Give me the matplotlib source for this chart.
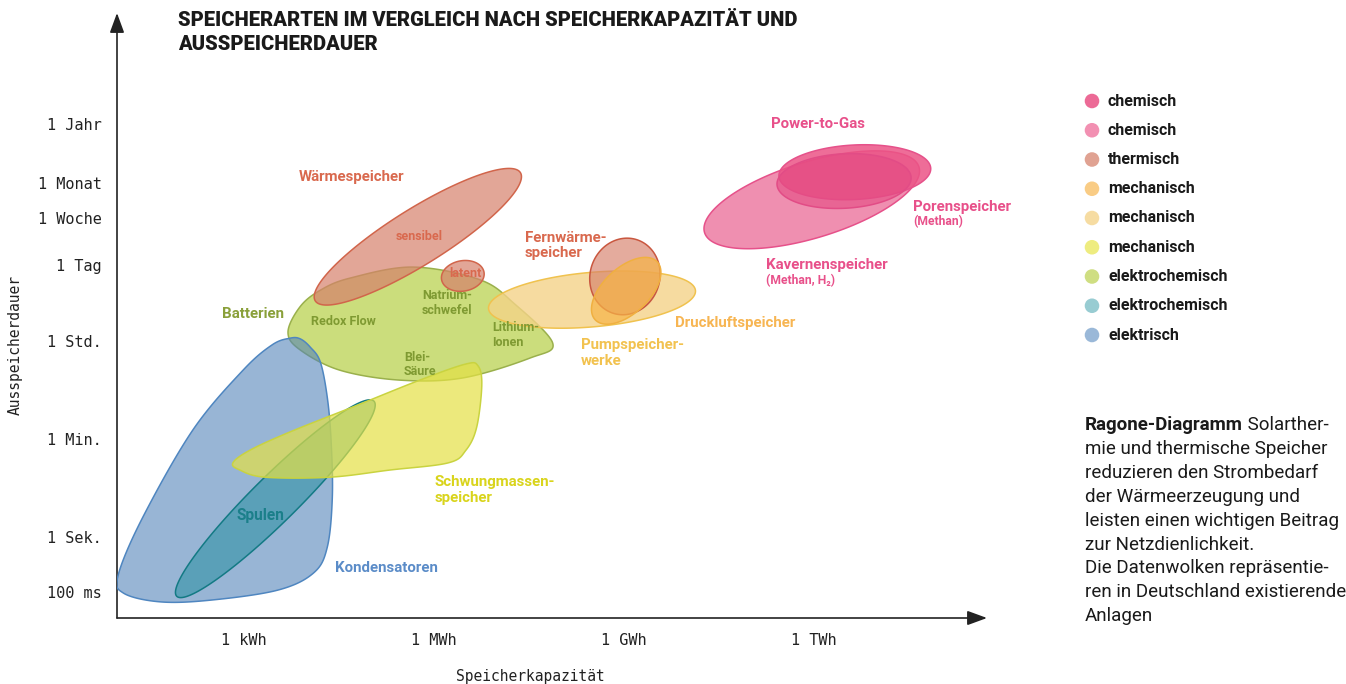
import numpy as np
import matplotlib
matplotlib.use("Agg")
import matplotlib.pyplot as plt
import matplotlib.colors as mcolors

plt.rcParams["font.family"] = ["Roboto", "DejaVu Sans"]
MONO = "DejaVu Sans Mono"

# axes: x = log10(capacity in Wh), y = log10(discharge duration in s)
x_ticks = [3, 6, 9, 12]
x_labels = ["1 kWh", "1 MWh", "1 GWh", "1 TWh"]
y_seconds = [365.25 * 86400, 30.44 * 86400, 7 * 86400, 86400, 3600, 60, 1, 0.1]
y_labels = ["1 Jahr", "1 Monat", "1 Woche", "1 Tag", "1 Std.", "1 Min.", "1 Sek.", "100 ms"]

# elliptic data clouds (centre, half axes in decades, tilt in degrees)
ell_names = ["Kavernenspeicher", "Power-to-Gas", "Porenspeicher", "Wärme sensibel",
             "Wärme latent", "Pumpspeicherwerke", "Druckluftspeicher",
             "Fernwärmespeicher", "Spulen"]
ell_x = [11.97, 12.65, 12.48, 5.75, 6.46, 8.50, 9.04, 9.02, 3.50]
ell_y = [6.12, 6.62, 6.46, 5.45, 4.74, 4.31, 4.47, 4.73, 0.70]
ell_rx = [1.77, 1.20, 1.06, 1.91, 0.34, 1.64, 0.67, 0.61, 2.19]
ell_ry = [0.60, 0.43, 0.43, 0.44, 0.24, 0.43, 0.36, 0.55, 0.36]
ell_tilt = [17, 3, 3, 32, 10, 5, 43, 72, 44.7]

# free-form clouds (outline points)
kond_x = [3.73, 3.89, 4.05, 4.21, 4.32, 4.38, 4.40, 4.32, 4.10, 3.53, 2.47, 1.68, 1.10, 1.02,
          1.41, 2.20, 2.99, 3.45]
kond_y = [3.61, 3.60, 3.45, 3.18, 2.54, 1.76, 0.73, -0.18, -0.65, -0.96, -1.14, -1.17, -1.01,
          -0.68, 0.37, 1.95, 3.03, 3.49]
batt_x = [3.70, 3.89, 4.21, 4.68, 5.67, 6.73, 7.28, 7.88, 7.52, 6.46, 5.47, 4.52, 3.89]
batt_y = [3.72, 4.18, 4.48, 4.70, 4.90, 4.67, 4.23, 3.52, 3.25, 2.89, 2.85, 3.03, 3.40]
schw_x = [2.83, 3.10, 3.73, 4.76, 5.78, 6.50, 6.70, 6.76, 6.68, 6.51, 6.23, 5.31, 4.36, 3.34, 2.94]
schw_y = [1.35, 1.58, 1.91, 2.38, 2.85, 3.14, 3.11, 2.76, 2.00, 1.58, 1.35, 1.22, 1.09, 1.09, 1.22]

leg_labels = ["chemisch", "chemisch", "thermisch", "mechanisch", "mechanisch", "mechanisch",
              "elektrochemisch", "elektrochemisch", "elektrisch"]
leg_colors = ["#ec6a96", "#f290b2", "#e0a292", "#f9cc85", "#f6dca2", "#eeec80",
              "#cfde82", "#98ccd2", "#9ab8d8"]

# fill colour, alpha, edge colour, zorder
style = {
    "Batterien":         ("#bad250", 0.75, "#9ab04c", 2),
    "Wärme sensibel":    ("#d6806b", 0.70, "#d1654b", 3),
    "Wärme latent":      ("#d6806b", 0.70, "#d1654b", 3),
    "Kondensatoren":     ("#5384b9", 0.60, "#4f86c0", 4),
    "Spulen":            ("#3192a5", 0.60, "#137a84", 5),
    "Schwungmassen":     ("#e4e145", 0.70, "#c9d340", 6),
    "Pumpspeicherwerke": ("#f4d388", 0.80, "#f0c24e", 7),
    "Fernwärmespeicher": ("#d6806b", 0.66, "#c9573f", 8),
    "Druckluftspeicher": ("#f6b447", 0.70, "#f0b040", 9),
    "Kavernenspeicher":  ("#ed7ca2", 0.85, "#e6518a", 10),
    "Power-to-Gas":      ("#eb5486", 0.85, "#e6518a", 11),
    "Porenspeicher":     ("#e44a82", 0.60, "#e24c86", 12),
}

W, H = 1346, 684
fig = plt.figure(figsize=(W / 100, H / 100), dpi=100)
ax = fig.add_axes([117 / W, (H - 618) / H, 870 / W, 605 / H])
ax.set_xlim(1, 14.737)
ax.set_ylim(-1.463, 9.507)
for s in ax.spines.values():
    s.set_visible(False)

# ratio of x to y scale in pixels, so tilted clouds keep their shape
p0 = ax.transData.transform((0, 0))
p1 = ax.transData.transform((1, 1))
k = (p1[0] - p0[0]) / (p1[1] - p0[1])


def draw_cloud(xs, ys, name):
    fc, a, ec, z = style[name]
    ax.fill(xs, ys, facecolor=mcolors.to_rgba(fc, a), edgecolor=ec, lw=1.1, zorder=z)


def ellipse(cx, cy, rx, ry, tilt):
    t = np.linspace(0, 2 * np.pi, 240)
    u, v = rx * np.cos(t), ry * np.sin(t)
    a = np.radians(tilt)
    return cx + u * np.cos(a) - v * np.sin(a), cy + (u * np.sin(a) + v * np.cos(a)) * k


def smooth(xs, ys, n=24):
    pts = np.column_stack([xs, ys])
    P = np.vstack([pts[-1], pts, pts[0], pts[1]])
    t = np.linspace(0, 1, n, endpoint=False)[:, None]
    out = []
    for i in range(len(pts)):
        q0, q1, q2, q3 = P[i:i + 4]
        out.append(0.5 * (2 * q1 + (q2 - q0) * t + (2 * q0 - 5 * q1 + 4 * q2 - q3) * t ** 2
                          + (3 * q1 - q0 - 3 * q2 + q3) * t ** 3))
    out = np.vstack(out)
    return out[:, 0], out[:, 1]


draw_cloud(*smooth(batt_x, batt_y), "Batterien")
draw_cloud(*smooth(kond_x, kond_y), "Kondensatoren")
draw_cloud(*smooth(schw_x, schw_y), "Schwungmassen")
for i, name in enumerate(ell_names):
    draw_cloud(*ellipse(ell_x[i], ell_y[i], ell_rx[i], ell_ry[i], ell_tilt[i]), name)

# axes with arrows
arrow = dict(arrowstyle="-|>,head_length=0.6,head_width=0.22", color="#222222",
             lw=1.2, shrinkA=0, shrinkB=0, mutation_scale=20)
ax.annotate("", xy=(1, 0), xytext=(0, 0), xycoords="axes fraction", arrowprops=arrow)
ax.annotate("", xy=(0, 1), xytext=(0, 0), xycoords="axes fraction", arrowprops=arrow)

ax.set_xticks(x_ticks, x_labels)
ax.set_yticks(np.log10(y_seconds), y_labels)
ax.tick_params(length=0, labelsize=11, colors="#222222")
ax.tick_params(axis="x", pad=11)
ax.tick_params(axis="y", pad=11)
for lab in ax.get_xticklabels() + ax.get_yticklabels():
    lab.set_family(MONO)

# labels on the clouds
pink, therm, olive = "#e8508a", "#d9694e", "#7f9a32"
labels = [
    ("Power-to-Gas", 12.07, 7.49, pink, 10.8, "center"),
    ("Porenspeicher", 13.57, 5.99, pink, 10.8, "left"),
    ("(Methan)", 13.58, 5.72, pink, 8.7, "left"),
    ("Kavernenspeicher", 11.25, 4.94, pink, 10.8, "left"),
    ("(Methan, H₂)", 11.25, 4.65, pink, 8.7, "left"),
    ("Wärmespeicher", 4.70, 6.53, therm, 10.8, "center"),
    ("sensibel", 5.77, 5.45, therm, 9, "center"),
    ("latent", 6.50, 4.79, therm, 9, "center"),
    ("Fernwärme-\nspeicher", 7.44, 5.29, therm, 10.8, "left"),
    ("Batterien", 3.15, 4.05, "#8aa03a", 10.8, "center"),
    ("Redox Flow", 4.58, 3.92, olive, 9, "center"),
    ("Natrium-\nschwefel", 6.21, 4.25, olive, 9, "center"),
    ("Lithium-\nIonen", 6.92, 3.67, olive, 9, "left"),
    ("Blei-\nSäure", 5.53, 3.14, olive, 9, "left"),
    ("Pumpspeicher-\nwerke", 8.33, 3.34, "#f2c24f", 10.8, "left"),
    ("Druckluftspeicher", 9.81, 3.89, "#f7b552", 10.8, "left"),
    ("Schwungmassen-\nspeicher", 6.01, 0.86, "#d9d41c", 10.8, "left"),
    ("Spulen", 3.27, 0.40, "#1b7f8a", 11.2, "center"),
    ("Kondensatoren", 4.44, -0.56, "#5b8cc8", 10.8, "left"),
]
for txt, x, y, c, fs, ha in labels:
    ax.text(x, y, txt, color=c, fontsize=fs, fontweight="bold", ha=ha, va="center",
            multialignment=ha, linespacing=1.12, zorder=20)

# overlay in pixel coordinates for title, legend and notes
ov = fig.add_axes([0, 0, 1, 1])
ov.set_xlim(0, W)
ov.set_ylim(H, 0)
ov.axis("off")

ov.text(178, 11, "SPEICHERARTEN IM VERGLEICH NACH SPEICHERKAPAZITÄT UND\nAUSSPEICHERDAUER",
        fontsize=14.5, fontweight="black", color="#1a1a1a", ha="left", va="top", linespacing=1.32)
ov.text(15, 345, "Ausspeicherdauer", family=MONO, fontsize=10.5, rotation=90,
        ha="center", va="center", color="#222222")
ov.text(530, 676, "Speicherkapazität", family=MONO, fontsize=10.5,
        ha="center", va="center", color="#222222")

for i, (lab, col) in enumerate(zip(leg_labels, leg_colors)):
    y = 101 + i * 29.25
    ov.scatter(1092, y, s=110, color=col, edgecolors="none")
    ov.text(1108, y, lab, fontsize=11.5, fontweight="bold", color="#1a1a1a", va="center")

note = ["mie und thermische Speicher", "reduzieren den Strombedarf", "der Wärmeerzeugung und",
        "leisten einen wichtigen Beitrag", "zur Netzdienlichkeit.", "Die Datenwolken repräsentie-",
        "ren in Deutschland existierende", "Anlagen"]
head = ov.text(1085, 425, "Ragone-Diagramm", fontsize=13.5, fontweight="bold",
               color="#1a1a1a", va="center")
ov.annotate(" Solarther-", xy=(1, 0.5), xycoords=head, fontsize=13.5, color="#1a1a1a",
            va="center", ha="left")
for i, line in enumerate(note):
    ov.text(1085, 425 + (i + 1) * 23.9, line, fontsize=13.5, color="#1a1a1a", va="center")

fig.savefig("out.png", dpi=100)
